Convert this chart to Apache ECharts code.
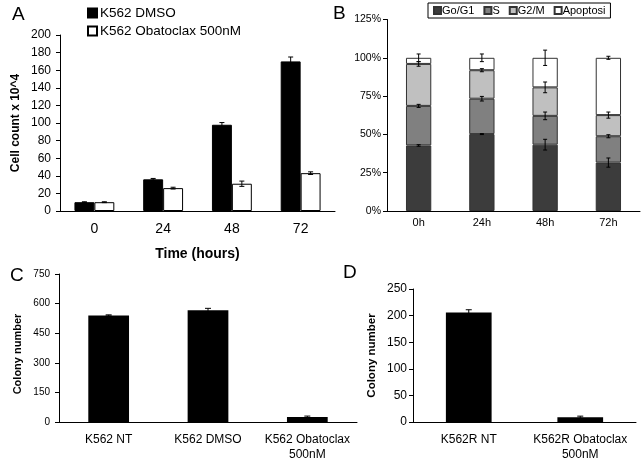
<!DOCTYPE html>
<html><head><meta charset="utf-8">
<script src="https://cdn.jsdelivr.net/npm/echarts@6/dist/echarts.min.js"></script>
<style>html,body{margin:0;padding:0;background:#fff}#c{width:644px;height:462px}</style>
</head><body><div id="c"></div>
<script>
// ---- Panel A data ----
const aCategories = ['0', '24', '48', '72'];
const aDmso = [10, 36, 98, 170];
const aDmsoErr = [0.5, 1, 2.5, 5];
const aObato = [10, 26, 31, 43];
const aObatoErr = [0.5, 1, 3, 1.5];

// ---- Panel B data (percent) ----
const bCategories = ['0h', '24h', '48h', '72h'];
const bG1 = [42.8, 50.2, 43.3, 31.6];
const bS = [25.8, 23.1, 18.8, 17.2];
const bG2M = [27.4, 18.6, 18.6, 13.8];
const bApop = [4.0, 8.1, 19.3, 37.4];
const bG1Err = [0.5, 0.3, 3.5, 3];
const bSErr = [1, 1.5, 2.5, 1];
const bG2MErr = [1.5, 1, 3.5, 2];
const bApopErr = [2.5, 2.5, 5, 1];

// ---- Panel C data ----
const cCategories = ['K562 NT', 'K562 DMSO', 'K562 Obatoclax\n500nM'];
const cValues = [540, 566, 25];
const cErr = [3, 10, 5];

// ---- Panel D data ----
const dCategories = ['K562R NT', 'K562R Obatoclax\n500nM'];
const dValues = [206, 9];
const dErr = [5, 2];

const FONT = "'Liberation Sans', Arial, sans-serif";

function errItem(nBars, idx, gapFrac, cap) {
  return function (params, api) {
    const ci = api.value(0), v = api.value(1), e = api.value(2);
    const cw = api.size([1, 0])[0];
    const bw = cw * (1 - gapFrac) / nBars;
    const p = api.coord([ci, v]);
    const x = p[0] + (idx - (nBars - 1) / 2) * bw;
    const top = api.coord([ci, v + e])[1];
    const bot = api.coord([ci, v - e])[1];
    const st = { stroke: '#000', lineWidth: 1 };
    return { type: 'group', children: [
      { type: 'line', shape: { x1: x, y1: top, x2: x, y2: bot }, style: st },
      { type: 'line', shape: { x1: x - cap, y1: top, x2: x + cap, y2: top }, style: st },
      { type: 'line', shape: { x1: x - cap, y1: bot, x2: x + cap, y2: bot }, style: st }
    ]};
  };
}
function errData(vals, errs) { return vals.map((v, i) => [i, v, errs[i]]); }
function cum(arrs) {
  const out = []; const run = arrs[0].map(() => 0);
  arrs.forEach(a => { a.forEach((v, i) => run[i] += v); out.push(run.slice()); });
  return out;
}
const bCum = cum([bG1, bS, bG2M, bApop]);

const axisLine = { lineStyle: { color: '#000', width: 1 } };
const axisTick = { length: 4, lineStyle: { color: '#000', width: 1 } };

const A_GAP = 0.42, B_GAP = 0.6, C_GAP = 0.59, D_GAP = 0.59;

const option = {
  animation: false,
  textStyle: { fontFamily: FONT, color: '#000' },
  grid: [
    { left: 60, top: 35, width: 275, height: 176 },
    { left: 387, top: 19.5, width: 253, height: 191.5 },
    { left: 59, top: 274, width: 298, height: 148 },
    { left: 413, top: 289, width: 223, height: 133 }
  ],
  legend: [
    { data: ['K562 DMSO', 'K562 Obatoclax 500nM'], orient: 'vertical', left: 87, top: 6,
      icon: 'rect', itemWidth: 9, itemHeight: 9, itemGap: 4, padding: 0,
      textStyle: { fontSize: 13.5, fontFamily: FONT, color: '#000', padding: [0, 0, 0, -2] } },
    { data: ['Go/G1', 'S', 'G2/M', 'Apoptosi'], orient: 'horizontal', left: 428, top: 3,
      icon: 'rect', itemWidth: 7, itemHeight: 7, itemGap: 9, padding: [2, 5, 2, 5],
      borderColor: '#000', borderWidth: 1,
      textStyle: { fontSize: 11, fontFamily: FONT, color: '#000', padding: [0, 0, 0, -4] } }
  ],
  xAxis: [
    { gridIndex: 0, type: 'category', data: aCategories, axisLine, axisTick,
      axisLabel: { fontSize: 14, margin: 11, color: '#000', interval: 0 },
      name: 'Time (hours)', nameLocation: 'middle', nameGap: 36,
      nameTextStyle: { fontWeight: 'bold', fontSize: 14, color: '#000' } },
    { gridIndex: 1, type: 'category', data: bCategories, axisLine, axisTick,
      axisLabel: { fontSize: 11, margin: 6, color: '#000', interval: 0 } },
    { gridIndex: 2, type: 'category', data: cCategories, axisLine, axisTick,
      axisLabel: { fontSize: 12, margin: 10, color: '#000', lineHeight: 15, interval: 0 } },
    { gridIndex: 3, type: 'category', data: dCategories, axisLine, axisTick,
      axisLabel: { fontSize: 12, margin: 10, color: '#000', lineHeight: 15, interval: 0 } }
  ],
  yAxis: [
    { gridIndex: 0, type: 'value', min: 0, max: 200, interval: 20, axisLine: { show: true, ...axisLine },
      axisTick: { show: true, ...axisTick }, splitLine: { show: false },
      axisLabel: { fontSize: 12, margin: 9, color: '#000' },
      name: 'Cell count x 10^4', nameLocation: 'middle', nameGap: 38,
      nameTextStyle: { fontWeight: 'bold', fontSize: 12, color: '#000' } },
    { gridIndex: 1, type: 'value', min: 0, max: 125, interval: 25, axisLine: { show: true, ...axisLine },
      axisTick: { show: true, ...axisTick }, splitLine: { show: false },
      axisLabel: { fontSize: 10.5, margin: 6, color: '#000', formatter: '{value}%' } },
    { gridIndex: 2, type: 'value', min: 0, max: 750, interval: 150, axisLine: { show: true, ...axisLine },
      axisTick: { show: true, ...axisTick }, splitLine: { show: false },
      axisLabel: { fontSize: 10, margin: 9, color: '#000' },
      name: 'Colony number', nameLocation: 'middle', nameGap: 36,
      nameTextStyle: { fontWeight: 'bold', fontSize: 11, color: '#000', padding: [0, 12, 0, 0] } },
    { gridIndex: 3, type: 'value', min: 0, max: 250, interval: 50, axisLine: { show: true, ...axisLine },
      axisTick: { show: true, ...axisTick }, splitLine: { show: false },
      axisLabel: { fontSize: 12, margin: 6, color: '#000' },
      name: 'Colony number', nameLocation: 'middle', nameGap: 35,
      nameTextStyle: { fontWeight: 'bold', fontSize: 11.5, color: '#000' } }
  ],
  series: [
    { name: 'K562 DMSO', type: 'bar', xAxisIndex: 0, yAxisIndex: 0, data: aDmso,
      barGap: 0, barCategoryGap: (A_GAP * 100) + '%',
      itemStyle: { color: '#000', borderColor: '#000', borderWidth: 1 } },
    { name: 'K562 Obatoclax 500nM', type: 'bar', xAxisIndex: 0, yAxisIndex: 0, data: aObato,
      barGap: 0, barCategoryGap: (A_GAP * 100) + '%',
      itemStyle: { color: '#fff', borderColor: '#000', borderWidth: 1 } },
    { type: 'custom', xAxisIndex: 0, yAxisIndex: 0, z: 10, data: errData(aDmso, aDmsoErr),
      renderItem: errItem(2, 0, A_GAP, 2.5) },
    { type: 'custom', xAxisIndex: 0, yAxisIndex: 0, z: 10, data: errData(aObato, aObatoErr),
      renderItem: errItem(2, 1, A_GAP, 2.5) },

    { name: 'Go/G1', type: 'bar', stack: 'b', xAxisIndex: 1, yAxisIndex: 1, data: bG1,
      barCategoryGap: (B_GAP * 100) + '%',
      itemStyle: { color: '#3c3c3c', borderColor: '#333', borderWidth: 1 } },
    { name: 'S', type: 'bar', stack: 'b', xAxisIndex: 1, yAxisIndex: 1, data: bS,
      itemStyle: { color: '#808080', borderColor: '#333', borderWidth: 1 } },
    { name: 'G2/M', type: 'bar', stack: 'b', xAxisIndex: 1, yAxisIndex: 1, data: bG2M,
      itemStyle: { color: '#c0c0c0', borderColor: '#333', borderWidth: 1 } },
    { name: 'Apoptosi', type: 'bar', stack: 'b', xAxisIndex: 1, yAxisIndex: 1, data: bApop,
      itemStyle: { color: '#fff', borderColor: '#333', borderWidth: 1 } },
    { type: 'custom', xAxisIndex: 1, yAxisIndex: 1, z: 10, data: errData(bCum[0], bG1Err), renderItem: errItem(1, 0, B_GAP, 2) },
    { type: 'custom', xAxisIndex: 1, yAxisIndex: 1, z: 10, data: errData(bCum[1], bSErr), renderItem: errItem(1, 0, B_GAP, 2) },
    { type: 'custom', xAxisIndex: 1, yAxisIndex: 1, z: 10, data: errData(bCum[2], bG2MErr), renderItem: errItem(1, 0, B_GAP, 2) },
    { type: 'custom', xAxisIndex: 1, yAxisIndex: 1, z: 10, data: errData(bCum[3], bApopErr), renderItem: errItem(1, 0, B_GAP, 2) },

    { type: 'bar', xAxisIndex: 2, yAxisIndex: 2, data: cValues, barCategoryGap: (C_GAP * 100) + '%',
      itemStyle: { color: '#000' } },
    { type: 'custom', xAxisIndex: 2, yAxisIndex: 2, z: 10, data: errData(cValues, cErr), renderItem: errItem(1, 0, C_GAP, 3) },

    { type: 'bar', xAxisIndex: 3, yAxisIndex: 3, data: dValues, barCategoryGap: (D_GAP * 100) + '%',
      itemStyle: { color: '#000' } },
    { type: 'custom', xAxisIndex: 3, yAxisIndex: 3, z: 10, data: errData(dValues, dErr), renderItem: errItem(1, 0, D_GAP, 3) }
  ],
  graphic: [
    { type: 'text', left: 12, top: 5, style: { text: 'A', fontSize: 19, fontFamily: FONT, fill: '#000' } },
    { type: 'text', left: 333, top: 4, style: { text: 'B', fontSize: 19, fontFamily: FONT, fill: '#000' } },
    { type: 'text', left: 10, top: 266, style: { text: 'C', fontSize: 19, fontFamily: FONT, fill: '#000' } },
    { type: 'text', left: 343, top: 263, style: { text: 'D', fontSize: 19, fontFamily: FONT, fill: '#000' } }
  ]
};
const chart = echarts.init(document.getElementById('c'), null, { renderer: 'canvas' });
chart.setOption(option);
</script></body></html>
